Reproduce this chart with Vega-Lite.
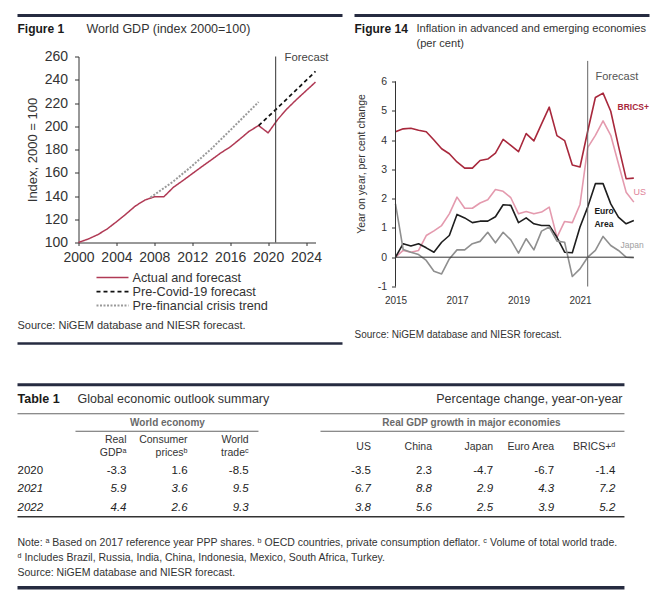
{
"$schema":"https://vega.github.io/schema/vega-lite/v6.json",
"padding":{"left":15.5,"top":13.5,"right":0,"bottom":0},
"spacing":37.25,
"config":{"font":"Liberation Sans","view":{"stroke":null},"axis":{"labelColor":"#333333","domainColor":"#333333","tickColor":"#333333","titleColor":"#333333","titleFontWeight":"normal","grid":false,"labelFlush":false,"labelOverlap":false},"line":{"strokeJoin":"round"}},
"datasets":{
"gdp":[
{"year":2000,"series":"Actual and forecast","index":100},{"year":2001,"series":"Actual and forecast","index":102.9},{"year":2002,"series":"Actual and forecast","index":106.6},{"year":2003,"series":"Actual and forecast","index":111.5},{"year":2004,"series":"Actual and forecast","index":117.8},{"year":2005,"series":"Actual and forecast","index":124.4},{"year":2006,"series":"Actual and forecast","index":131.4},{"year":2007,"series":"Actual and forecast","index":136.5},{"year":2008,"series":"Actual and forecast","index":139.3},{"year":2009,"series":"Actual and forecast","index":139.3},{"year":2010,"series":"Actual and forecast","index":147.4},{"year":2011,"series":"Actual and forecast","index":153.2},{"year":2012,"series":"Actual and forecast","index":159.2},{"year":2013,"series":"Actual and forecast","index":165.2},{"year":2014,"series":"Actual and forecast","index":171.0},{"year":2015,"series":"Actual and forecast","index":177.0},{"year":2016,"series":"Actual and forecast","index":182.2},{"year":2017,"series":"Actual and forecast","index":188.8},{"year":2018,"series":"Actual and forecast","index":195.7},{"year":2019,"series":"Actual and forecast","index":200.6},{"year":2020,"series":"Actual and forecast","index":194.3},{"year":2021,"series":"Actual and forecast","index":205.7},{"year":2022,"series":"Actual and forecast","index":215.0},{"year":2023,"series":"Actual and forecast","index":223.0},{"year":2024,"series":"Actual and forecast","index":230.5},{"year":2025,"series":"Actual and forecast","index":238.0},
{"year":2019,"series":"Pre-Covid-19 forecast","index":200.6},{"year":2021,"series":"Pre-Covid-19 forecast","index":215.8},{"year":2023,"series":"Pre-Covid-19 forecast","index":231.5},{"year":2025,"series":"Pre-Covid-19 forecast","index":247.2},
{"year":2007.6,"series":"Pre-financial crisis trend","index":138.8},{"year":2010,"series":"Pre-financial crisis trend","index":152.5},{"year":2012,"series":"Pre-financial crisis trend","index":166.0},{"year":2014,"series":"Pre-financial crisis trend","index":180.5},{"year":2016,"series":"Pre-financial crisis trend","index":196.5},{"year":2019,"series":"Pre-financial crisis trend","index":220.9}
],
"infl":[
{"t":2015,"c":"BRICS+","v":4.28},{"t":2015.25,"c":"BRICS+","v":4.38},{"t":2015.5,"c":"BRICS+","v":4.4},{"t":2015.75,"c":"BRICS+","v":4.33},{"t":2016,"c":"BRICS+","v":4.28},{"t":2016.25,"c":"BRICS+","v":4.0},{"t":2016.5,"c":"BRICS+","v":3.7},{"t":2016.75,"c":"BRICS+","v":3.53},{"t":2017,"c":"BRICS+","v":3.25},{"t":2017.25,"c":"BRICS+","v":3.04},{"t":2017.5,"c":"BRICS+","v":3.04},{"t":2017.75,"c":"BRICS+","v":3.3},{"t":2018,"c":"BRICS+","v":3.35},{"t":2018.25,"c":"BRICS+","v":3.55},{"t":2018.5,"c":"BRICS+","v":4.02},{"t":2018.75,"c":"BRICS+","v":3.82},{"t":2019,"c":"BRICS+","v":3.6},{"t":2019.25,"c":"BRICS+","v":4.22},{"t":2019.5,"c":"BRICS+","v":3.97},{"t":2019.75,"c":"BRICS+","v":4.55},{"t":2020,"c":"BRICS+","v":5.12},{"t":2020.25,"c":"BRICS+","v":4.15},{"t":2020.5,"c":"BRICS+","v":3.98},{"t":2020.75,"c":"BRICS+","v":3.15},{"t":2021,"c":"BRICS+","v":3.08},{"t":2021.25,"c":"BRICS+","v":4.3},{"t":2021.5,"c":"BRICS+","v":5.45},{"t":2021.75,"c":"BRICS+","v":5.6},{"t":2022,"c":"BRICS+","v":4.98},{"t":2022.25,"c":"BRICS+","v":3.8},{"t":2022.5,"c":"BRICS+","v":2.68},{"t":2022.75,"c":"BRICS+","v":2.7},
{"t":2015,"c":"US","v":0.0},{"t":2015.25,"c":"US","v":0.23},{"t":2015.5,"c":"US","v":0.17},{"t":2015.75,"c":"US","v":0.23},{"t":2016,"c":"US","v":0.74},{"t":2016.25,"c":"US","v":0.9},{"t":2016.5,"c":"US","v":1.08},{"t":2016.75,"c":"US","v":1.48},{"t":2017,"c":"US","v":2.05},{"t":2017.25,"c":"US","v":1.67},{"t":2017.5,"c":"US","v":1.67},{"t":2017.75,"c":"US","v":1.85},{"t":2018,"c":"US","v":1.96},{"t":2018.25,"c":"US","v":2.31},{"t":2018.5,"c":"US","v":2.25},{"t":2018.75,"c":"US","v":2.03},{"t":2019,"c":"US","v":1.48},{"t":2019.25,"c":"US","v":1.56},{"t":2019.5,"c":"US","v":1.48},{"t":2019.75,"c":"US","v":1.54},{"t":2020,"c":"US","v":1.71},{"t":2020.25,"c":"US","v":0.68},{"t":2020.5,"c":"US","v":1.22},{"t":2020.75,"c":"US","v":1.18},{"t":2021,"c":"US","v":1.8},{"t":2021.25,"c":"US","v":3.74},{"t":2021.5,"c":"US","v":4.16},{"t":2021.75,"c":"US","v":4.65},{"t":2022,"c":"US","v":4.16},{"t":2022.25,"c":"US","v":3.19},{"t":2022.5,"c":"US","v":2.22},{"t":2022.75,"c":"US","v":1.88},
{"t":2015,"c":"Euro Area","v":0.0},{"t":2015.25,"c":"Euro Area","v":0.46},{"t":2015.5,"c":"Euro Area","v":0.38},{"t":2015.75,"c":"Euro Area","v":0.46},{"t":2016,"c":"Euro Area","v":0.32},{"t":2016.25,"c":"Euro Area","v":0.17},{"t":2016.5,"c":"Euro Area","v":0.51},{"t":2016.75,"c":"Euro Area","v":0.74},{"t":2017,"c":"Euro Area","v":1.46},{"t":2017.25,"c":"Euro Area","v":1.34},{"t":2017.5,"c":"Euro Area","v":1.18},{"t":2017.75,"c":"Euro Area","v":1.23},{"t":2018,"c":"Euro Area","v":1.23},{"t":2018.25,"c":"Euro Area","v":1.38},{"t":2018.5,"c":"Euro Area","v":1.79},{"t":2018.75,"c":"Euro Area","v":1.77},{"t":2019,"c":"Euro Area","v":1.18},{"t":2019.25,"c":"Euro Area","v":1.34},{"t":2019.5,"c":"Euro Area","v":1.14},{"t":2019.75,"c":"Euro Area","v":1.08},{"t":2020,"c":"Euro Area","v":1.08},{"t":2020.25,"c":"Euro Area","v":0.68},{"t":2020.5,"c":"Euro Area","v":0.17},{"t":2020.75,"c":"Euro Area","v":0.15},{"t":2021,"c":"Euro Area","v":1.03},{"t":2021.25,"c":"Euro Area","v":1.71},{"t":2021.5,"c":"Euro Area","v":2.51},{"t":2021.75,"c":"Euro Area","v":2.51},{"t":2022,"c":"Euro Area","v":1.82},{"t":2022.25,"c":"Euro Area","v":1.37},{"t":2022.5,"c":"Euro Area","v":1.14},{"t":2022.75,"c":"Euro Area","v":1.25},
{"t":2015,"c":"Japan","v":1.82},{"t":2015.25,"c":"Japan","v":0.26},{"t":2015.5,"c":"Japan","v":0.17},{"t":2015.75,"c":"Japan","v":0.09},{"t":2016,"c":"Japan","v":-0.11},{"t":2016.25,"c":"Japan","v":-0.48},{"t":2016.5,"c":"Japan","v":-0.57},{"t":2016.75,"c":"Japan","v":-0.06},{"t":2017,"c":"Japan","v":0.25},{"t":2017.25,"c":"Japan","v":0.25},{"t":2017.5,"c":"Japan","v":0.46},{"t":2017.75,"c":"Japan","v":0.54},{"t":2018,"c":"Japan","v":0.85},{"t":2018.25,"c":"Japan","v":0.49},{"t":2018.5,"c":"Japan","v":0.85},{"t":2018.75,"c":"Japan","v":0.59},{"t":2019,"c":"Japan","v":0.14},{"t":2019.25,"c":"Japan","v":0.63},{"t":2019.5,"c":"Japan","v":0.25},{"t":2019.75,"c":"Japan","v":0.89},{"t":2020,"c":"Japan","v":1.03},{"t":2020.25,"c":"Japan","v":0.55},{"t":2020.5,"c":"Japan","v":0.51},{"t":2020.75,"c":"Japan","v":-0.66},{"t":2021,"c":"Japan","v":-0.4},{"t":2021.25,"c":"Japan","v":0.0},{"t":2021.5,"c":"Japan","v":0.23},{"t":2021.75,"c":"Japan","v":0.71},{"t":2022,"c":"Japan","v":0.4},{"t":2022.25,"c":"Japan","v":0.23},{"t":2022.5,"c":"Japan","v":0.0},{"t":2022.75,"c":"Japan","v":-0.02}
],
"table":[
{"year":2020,"col":1,"measure":"Real GDP","v":"-3.3"},{"year":2020,"col":2,"measure":"Consumer prices","v":"1.6"},{"year":2020,"col":3,"measure":"World trade","v":"-8.5"},{"year":2020,"col":5,"measure":"US","v":"-3.5"},{"year":2020,"col":6,"measure":"China","v":"2.3"},{"year":2020,"col":7,"measure":"Japan","v":"-4.7"},{"year":2020,"col":8,"measure":"Euro Area","v":"-6.7"},{"year":2020,"col":9,"measure":"BRICS+","v":"-1.4"},
{"year":2021,"col":1,"measure":"Real GDP","v":"5.9"},{"year":2021,"col":2,"measure":"Consumer prices","v":"3.6"},{"year":2021,"col":3,"measure":"World trade","v":"9.5"},{"year":2021,"col":5,"measure":"US","v":"6.7"},{"year":2021,"col":6,"measure":"China","v":"8.8"},{"year":2021,"col":7,"measure":"Japan","v":"2.9"},{"year":2021,"col":8,"measure":"Euro Area","v":"4.3"},{"year":2021,"col":9,"measure":"BRICS+","v":"7.2"},
{"year":2022,"col":1,"measure":"Real GDP","v":"4.4"},{"year":2022,"col":2,"measure":"Consumer prices","v":"2.6"},{"year":2022,"col":3,"measure":"World trade","v":"9.3"},{"year":2022,"col":5,"measure":"US","v":"3.8"},{"year":2022,"col":6,"measure":"China","v":"5.6"},{"year":2022,"col":7,"measure":"Japan","v":"2.5"},{"year":2022,"col":8,"measure":"Euro Area","v":"3.9"},{"year":2022,"col":9,"measure":"BRICS+","v":"5.2"}
],
"heads":[
{"col":1,"t1":"Real","t2":"GDPᵃ"},{"col":2,"t1":"Consumer","t2":"pricesᵇ"},{"col":3,"t1":"World","t2":"tradeᶜ"},{"col":5,"t1":"US"},{"col":6,"t1":"China"},{"col":7,"t1":"Japan"},{"col":8,"t1":"Euro Area"},{"col":9,"t1":"BRICS+ᵈ"}
]
},
"vconcat":[
{"hconcat":[
{"width":237,"height":186,"resolve":{"axis":{"x":"independent","y":"independent"}},"layer":[
{"data":{"name":"gdp"},"mark":{"type":"line"},
"encoding":{
"x":{"field":"year","type":"quantitative","scale":{"domain":[2000,2025],"nice":false,"zero":false},"axis":{"values":[2000,2004,2008,2012,2016,2020,2024],"format":"d","title":null,"labelFontSize":14,"labelPadding":5,"tickSize":3,"labelOverlap":false,"labelFlush":false}},
"y":{"field":"index","type":"quantitative","scale":{"domain":[100,260],"nice":false,"zero":false},"axis":{"values":[100,120,140,160,180,200,220,240,260],"title":"Index, 2000 = 100","titleFontSize":13,"titlePadding":5,"labelFontSize":14,"labelPadding":7,"tickSize":4,"labelOverlap":false}},
"color":{"field":"series","type":"nominal","scale":{"domain":["Actual and forecast","Pre-Covid-19 forecast","Pre-financial crisis trend"],"range":["#b03a55","#111111","#9a9a9a"]},"legend":{"orient":"none","legendX":27,"legendY":214,"title":null,"symbolType":"M-2.667,0H2.667","symbolSize":144,"symbolStrokeWidth":1.5,"labelFontSize":12.7,"labelOffset":13,"rowPadding":0,"padding":0,"labelColor":"#333333","labelLimit":300}},
"strokeDash":{"field":"series","type":"nominal","scale":{"domain":["Actual and forecast","Pre-Covid-19 forecast","Pre-financial crisis trend"],"range":[[1,0],[4,3],[2,1.5]]},"legend":{"orient":"none","legendX":27,"legendY":214,"title":null,"symbolType":"M-2.667,0H2.667","symbolSize":144,"symbolStrokeWidth":1.5,"labelFontSize":12.7,"labelOffset":13,"rowPadding":0,"padding":0,"labelColor":"#333333","labelLimit":300}},
"strokeWidth":{"field":"series","type":"ordinal","scale":{"domain":["Actual and forecast","Pre-Covid-19 forecast","Pre-financial crisis trend"],"range":[1.5,2,1]},"legend":null}
}},
{"data":{"values":[{}]},"mark":{"type":"rule","color":"#333333","strokeWidth":1},"encoding":{"x":{"datum":2020.8,"type":"quantitative","scale":{"domain":[2000,2025],"nice":false,"zero":false},"axis":null}}},
{"data":{"values":[{}]},"mark":{"type":"text","align":"left","baseline":"middle","fontSize":11.3,"color":"#444444"},"encoding":{"x":{"datum":2021.73,"type":"quantitative","scale":{"domain":[2000,2025],"nice":false,"zero":false},"axis":null},"y":{"datum":258.7,"type":"quantitative","scale":{"domain":[100,260],"nice":false,"zero":false},"axis":null},"text":{"value":"Forecast"}}},
{"data":{"values":[{}]},"mark":{"type":"text","align":"left","baseline":"middle","fontSize":12,"fontWeight":"bold","color":"#1a1a1a"},"encoding":{"x":{"datum":1993.565,"type":"quantitative","scale":{"domain":[2000,2025],"nice":false,"zero":false},"axis":null},"y":{"datum":283.8,"type":"quantitative","scale":{"domain":[100,260],"nice":false,"zero":false},"axis":null},"text":{"value":"Figure 1"}}},
{"data":{"values":[{}]},"mark":{"type":"text","align":"left","baseline":"middle","fontSize":12.5,"color":"#333333"},"encoding":{"x":{"datum":2000.844,"type":"quantitative","scale":{"domain":[2000,2025],"nice":false,"zero":false},"axis":null},"y":{"datum":283.8,"type":"quantitative","scale":{"domain":[100,260],"nice":false,"zero":false},"axis":null},"text":{"value":"World GDP (index 2000=100)"}}},
{"data":{"values":[{}]},"mark":{"type":"text","align":"left","baseline":"middle","fontSize":11,"color":"#333333"},"encoding":{"x":{"datum":1993.565,"type":"quantitative","scale":{"domain":[2000,2025],"nice":false,"zero":false},"axis":null},"y":{"datum":28.6,"type":"quantitative","scale":{"domain":[100,260],"nice":false,"zero":false},"axis":null},"text":{"value":"Source: NiGEM database and NIESR forecast."}}},
{"data":{"values":[{}]},"mark":{"type":"rule","color":"#262b40","strokeWidth":3},"encoding":{"x":{"datum":1993.565,"type":"quantitative","scale":{"domain":[2000,2025],"nice":false,"zero":false},"axis":null},"x2":{"datum":2027.848},"y":{"datum":295.27,"type":"quantitative","scale":{"domain":[100,260],"nice":false,"zero":false},"axis":null}}},
{"data":{"values":[{}]},"mark":{"type":"rule","color":"#262b40","strokeWidth":2.5},"encoding":{"x":{"datum":1993.565,"type":"quantitative","scale":{"domain":[2000,2025],"nice":false,"zero":false},"axis":null},"x2":{"datum":2027.848},"y":{"datum":13.12,"type":"quantitative","scale":{"domain":[100,260],"nice":false,"zero":false},"axis":null}}}
]},
{"width":246,"height":230,"resolve":{"axis":{"x":"independent","y":"independent"}},"layer":[
{"data":{"name":"infl"},"mark":{"type":"line","strokeWidth":1.6},
"encoding":{
"x":{"field":"t","type":"quantitative","scale":{"domain":[2015,2023],"nice":false,"zero":false},"axis":{"values":[2015,2017,2019,2021],"format":"d","title":null,"domain":false,"ticks":false,"labelPadding":9,"labelFontSize":10,"labelOverlap":false,"labelFlush":false}},
"y":{"field":"v","type":"quantitative","scale":{"domain":[-1,6.85],"nice":false,"zero":false},"axis":{"values":[-1,0,1,2,3,4,5,6],"labelExpr":"''+datum.value","domain":false,"tickSize":4,"labelPadding":5,"labelFontSize":10.5,"labelOverlap":false,"title":"Year on year, per cent change","titleFontSize":10.5,"titlePadding":11,"titleY":107}},
"color":{"field":"c","type":"nominal","scale":{"domain":["Japan","US","Euro Area","BRICS+"],"range":["#8f8f8f","#e49aae","#1e1e1e","#a8283c"]},"legend":null}
}},
{"data":{"values":[{}]},"mark":{"type":"rule","color":"#333333","strokeWidth":1},"encoding":{"x":{"datum":2015,"type":"quantitative","scale":{"domain":[2015,2023],"nice":false,"zero":false},"axis":null},"y":{"datum":-1,"type":"quantitative","scale":{"domain":[-1,6.85],"nice":false,"zero":false},"axis":null},"y2":{"datum":6}}},
{"data":{"values":[{}]},"mark":{"type":"rule","color":"#333333","strokeWidth":1},"encoding":{"x":{"datum":2015,"type":"quantitative","scale":{"domain":[2015,2023],"nice":false,"zero":false},"axis":null},"x2":{"datum":2022.75},"y":{"datum":0,"type":"quantitative","scale":{"domain":[-1,6.85],"nice":false,"zero":false},"axis":null}}},
{"data":{"values":[{}]},"mark":{"type":"rule","color":"#666666","strokeWidth":1},"encoding":{"x":{"datum":2021.25,"type":"quantitative","scale":{"domain":[2015,2023],"nice":false,"zero":false},"axis":null},"y":{"datum":-1,"type":"quantitative","scale":{"domain":[-1,6.85],"nice":false,"zero":false},"axis":null},"y2":{"datum":6.7}}},
{"data":{"values":[{}]},"mark":{"type":"text","align":"left","baseline":"middle","fontSize":11,"color":"#555555"},"encoding":{"x":{"datum":2021.504,"type":"quantitative","scale":{"domain":[2015,2023],"nice":false,"zero":false},"axis":null},"y":{"datum":6.167,"type":"quantitative","scale":{"domain":[-1,6.85],"nice":false,"zero":false},"axis":null},"text":{"value":"Forecast"}}},
{"data":{"values":[{}]},"mark":{"type":"text","align":"left","baseline":"middle","fontSize":8.5,"fontWeight":"bold","color":"#a8283c"},"encoding":{"x":{"datum":2022.22,"type":"quantitative","scale":{"domain":[2015,2023],"nice":false,"zero":false},"axis":null},"y":{"datum":5.12,"type":"quantitative","scale":{"domain":[-1,6.85],"nice":false,"zero":false},"axis":null},"text":{"value":"BRICS+"}}},
{"data":{"values":[{}]},"mark":{"type":"text","align":"left","baseline":"middle","fontSize":9,"color":"#e08198"},"encoding":{"x":{"datum":2022.74,"type":"quantitative","scale":{"domain":[2015,2023],"nice":false,"zero":false},"axis":null},"y":{"datum":2.21,"type":"quantitative","scale":{"domain":[-1,6.85],"nice":false,"zero":false},"axis":null},"text":{"value":"US"}}},
{"data":{"values":[{}]},"mark":{"type":"text","align":"left","baseline":"middle","fontSize":8.5,"fontWeight":"bold","color":"#1a1a1a"},"encoding":{"x":{"datum":2021.47,"type":"quantitative","scale":{"domain":[2015,2023],"nice":false,"zero":false},"axis":null},"y":{"datum":1.56,"type":"quantitative","scale":{"domain":[-1,6.85],"nice":false,"zero":false},"axis":null},"text":{"value":"Euro"}}},
{"data":{"values":[{}]},"mark":{"type":"text","align":"left","baseline":"middle","fontSize":8.5,"fontWeight":"bold","color":"#1a1a1a"},"encoding":{"x":{"datum":2021.47,"type":"quantitative","scale":{"domain":[2015,2023],"nice":false,"zero":false},"axis":null},"y":{"datum":1.15,"type":"quantitative","scale":{"domain":[-1,6.85],"nice":false,"zero":false},"axis":null},"text":{"value":"Area"}}},
{"data":{"values":[{}]},"mark":{"type":"text","align":"left","baseline":"middle","fontSize":8.5,"color":"#a0a0a0"},"encoding":{"x":{"datum":2022.32,"type":"quantitative","scale":{"domain":[2015,2023],"nice":false,"zero":false},"axis":null},"y":{"datum":0.43,"type":"quantitative","scale":{"domain":[-1,6.85],"nice":false,"zero":false},"axis":null},"text":{"value":"Japan"}}},
{"data":{"values":[{}]},"mark":{"type":"text","align":"left","baseline":"middle","fontSize":12,"fontWeight":"bold","color":"#1a1a1a"},"encoding":{"x":{"datum":2013.667,"type":"quantitative","scale":{"domain":[2015,2023],"nice":false,"zero":false},"axis":null},"y":{"datum":7.789,"type":"quantitative","scale":{"domain":[-1,6.85],"nice":false,"zero":false},"axis":null},"text":{"value":"Figure 14"}}},
{"data":{"values":[{}]},"mark":{"type":"text","align":"left","baseline":"middle","fontSize":11.1,"color":"#333333"},"encoding":{"x":{"datum":2015.683,"type":"quantitative","scale":{"domain":[2015,2023],"nice":false,"zero":false},"axis":null},"y":{"datum":7.789,"type":"quantitative","scale":{"domain":[-1,6.85],"nice":false,"zero":false},"axis":null},"text":{"value":"Inflation in advanced and emerging economies"}}},
{"data":{"values":[{}]},"mark":{"type":"text","align":"left","baseline":"middle","fontSize":11.1,"color":"#333333"},"encoding":{"x":{"datum":2015.683,"type":"quantitative","scale":{"domain":[2015,2023],"nice":false,"zero":false},"axis":null},"y":{"datum":7.277,"type":"quantitative","scale":{"domain":[-1,6.85],"nice":false,"zero":false},"axis":null},"text":{"value":"(per cent)"}}},
{"data":{"values":[{}]},"mark":{"type":"text","align":"left","baseline":"middle","fontSize":10,"color":"#333333"},"encoding":{"x":{"datum":2013.667,"type":"quantitative","scale":{"domain":[2015,2023],"nice":false,"zero":false},"axis":null},"y":{"datum":-2.672,"type":"quantitative","scale":{"domain":[-1,6.85],"nice":false,"zero":false},"axis":null},"text":{"value":"Source: NiGEM database and NIESR forecast."}}},
{"data":{"values":[{}]},"mark":{"type":"rule","color":"#262b40","strokeWidth":3},"encoding":{"x":{"datum":2013.667,"type":"quantitative","scale":{"domain":[2015,2023],"nice":false,"zero":false},"axis":null},"x2":{"datum":2023.26},"y":{"datum":8.249,"type":"quantitative","scale":{"domain":[-1,6.85],"nice":false,"zero":false},"axis":null}}}
]}
],"spacing":8,"resolve":{"scale":{"color":"independent","strokeDash":"independent","strokeWidth":"independent"},"legend":{"color":"independent","strokeDash":"independent"}}},
{"width":544,"height":203,"layer":[
{"data":{"name":"table"},"transform":[{"filter":"datum.year == 2020"}],"mark":{"type":"text","align":"right","baseline":"middle","fontSize":11.5,"color":"#222222"},"encoding":{"x":{"field":"col","type":"quantitative","scale":{"domain":[0.2144,9.118],"nice":false,"zero":false},"axis":null},"y":{"field":"year","type":"quantitative","scale":{"domain":[2015.351,2026.324],"nice":false,"zero":false,"reverse":true},"axis":null},"text":{"field":"v","type":"nominal"}}},
{"data":{"name":"table"},"transform":[{"filter":"datum.year > 2020"}],"mark":{"type":"text","align":"right","baseline":"middle","fontSize":11.5,"fontStyle":"italic","color":"#222222"},"encoding":{"x":{"field":"col","type":"quantitative","scale":{"domain":[0.2144,9.118],"nice":false,"zero":false},"axis":null},"y":{"field":"year","type":"quantitative","scale":{"domain":[2015.351,2026.324],"nice":false,"zero":false,"reverse":true},"axis":null},"text":{"field":"v","type":"nominal"}}},
{"data":{"name":"table"},"transform":[{"filter":"datum.col == 1 && datum.year == 2020"}],"mark":{"type":"text","align":"left","baseline":"middle","fontSize":11.5,"color":"#222222"},"encoding":{"x":{"datum":-0.784,"type":"quantitative","scale":{"domain":[0.2144,9.118],"nice":false,"zero":false},"axis":null},"y":{"field":"year","type":"quantitative","scale":{"domain":[2015.351,2026.324],"nice":false,"zero":false,"reverse":true},"axis":null},"text":{"field":"year","type":"nominal"}}},
{"data":{"name":"table"},"transform":[{"filter":"datum.col == 1 && datum.year > 2020"}],"mark":{"type":"text","align":"left","baseline":"middle","fontSize":11.5,"fontStyle":"italic","color":"#222222"},"encoding":{"x":{"datum":-0.784,"type":"quantitative","scale":{"domain":[0.2144,9.118],"nice":false,"zero":false},"axis":null},"y":{"field":"year","type":"quantitative","scale":{"domain":[2015.351,2026.324],"nice":false,"zero":false,"reverse":true},"axis":null},"text":{"field":"year","type":"nominal"}}},
{"data":{"values":[{}]},"mark":{"type":"rule","color":"#262b40","strokeWidth":3},"encoding":{"x":{"datum":-0.784,"type":"quantitative","scale":{"domain":[0.2144,9.118],"nice":false,"zero":false},"axis":null},"x2":{"datum":9.15},"y":{"datum":2015.351,"type":"quantitative","scale":{"domain":[2015.351,2026.324],"nice":false,"zero":false,"reverse":true},"axis":null}}},
{"data":{"values":[{}]},"mark":{"type":"text","align":"left","baseline":"middle","fontSize":12.5,"fontWeight":"bold","color":"#1a1a1a"},"encoding":{"x":{"datum":-0.784,"type":"quantitative","scale":{"domain":[0.2144,9.118],"nice":false,"zero":false},"axis":null},"y":{"datum":2016.108,"type":"quantitative","scale":{"domain":[2015.351,2026.324],"nice":false,"zero":false,"reverse":true},"axis":null},"text":{"value":"Table 1"}}},
{"data":{"values":[{}]},"mark":{"type":"text","align":"left","baseline":"middle","fontSize":12.5,"color":"#333333"},"encoding":{"x":{"datum":0.198,"type":"quantitative","scale":{"domain":[0.2144,9.118],"nice":false,"zero":false},"axis":null},"y":{"datum":2016.108,"type":"quantitative","scale":{"domain":[2015.351,2026.324],"nice":false,"zero":false,"reverse":true},"axis":null},"text":{"value":"Global economic outlook summary"}}},
{"data":{"values":[{}]},"mark":{"type":"text","align":"right","baseline":"middle","fontSize":12.5,"color":"#333333"},"encoding":{"x":{"datum":9.118,"type":"quantitative","scale":{"domain":[0.2144,9.118],"nice":false,"zero":false},"axis":null},"y":{"datum":2016.108,"type":"quantitative","scale":{"domain":[2015.351,2026.324],"nice":false,"zero":false,"reverse":true},"axis":null},"text":{"value":"Percentage change, year-on-year"}}},
{"data":{"values":[{}]},"mark":{"type":"rule","color":"#666666","strokeWidth":1},"encoding":{"x":{"datum":-0.784,"type":"quantitative","scale":{"domain":[0.2144,9.118],"nice":false,"zero":false},"axis":null},"x2":{"datum":9.15},"y":{"datum":2016.919,"type":"quantitative","scale":{"domain":[2015.351,2026.324],"nice":false,"zero":false,"reverse":true},"axis":null}}},
{"data":{"values":[{}]},"mark":{"type":"text","align":"center","baseline":"middle","fontSize":10,"fontWeight":"bold","color":"#6a6a6a"},"encoding":{"x":{"datum":1.671,"type":"quantitative","scale":{"domain":[0.2144,9.118],"nice":false,"zero":false},"axis":null},"y":{"datum":2017.405,"type":"quantitative","scale":{"domain":[2015.351,2026.324],"nice":false,"zero":false,"reverse":true},"axis":null},"text":{"value":"World economy"}}},
{"data":{"values":[{}]},"mark":{"type":"text","align":"center","baseline":"middle","fontSize":10,"fontWeight":"bold","color":"#6a6a6a"},"encoding":{"x":{"datum":6.646,"type":"quantitative","scale":{"domain":[0.2144,9.118],"nice":false,"zero":false},"axis":null},"y":{"datum":2017.405,"type":"quantitative","scale":{"domain":[2015.351,2026.324],"nice":false,"zero":false,"reverse":true},"axis":null},"text":{"value":"Real GDP growth in major economies"}}},
{"data":{"values":[{}]},"mark":{"type":"rule","color":"#666666","strokeWidth":1},"encoding":{"x":{"datum":0.165,"type":"quantitative","scale":{"domain":[0.2144,9.118],"nice":false,"zero":false},"axis":null},"x2":{"datum":3.16},"y":{"datum":2017.865,"type":"quantitative","scale":{"domain":[2015.351,2026.324],"nice":false,"zero":false,"reverse":true},"axis":null}}},
{"data":{"values":[{}]},"mark":{"type":"rule","color":"#666666","strokeWidth":1},"encoding":{"x":{"datum":4.175,"type":"quantitative","scale":{"domain":[0.2144,9.118],"nice":false,"zero":false},"axis":null},"x2":{"datum":9.15},"y":{"datum":2017.865,"type":"quantitative","scale":{"domain":[2015.351,2026.324],"nice":false,"zero":false,"reverse":true},"axis":null}}},
{"data":{"name":"heads"},"transform":[{"filter":"isValid(datum.t2)"}],"mark":{"type":"text","align":"right","baseline":"middle","fontSize":10.5,"color":"#333333"},"encoding":{"x":{"field":"col","type":"quantitative","scale":{"domain":[0.2144,9.118],"nice":false,"zero":false},"axis":null},"y":{"datum":2018.324,"type":"quantitative","scale":{"domain":[2015.351,2026.324],"nice":false,"zero":false,"reverse":true},"axis":null},"text":{"field":"t1","type":"nominal"}}},
{"data":{"name":"heads"},"transform":[{"filter":"isValid(datum.t2)"}],"mark":{"type":"text","align":"right","baseline":"middle","fontSize":10.5,"color":"#333333"},"encoding":{"x":{"field":"col","type":"quantitative","scale":{"domain":[0.2144,9.118],"nice":false,"zero":false},"axis":null},"y":{"datum":2019.054,"type":"quantitative","scale":{"domain":[2015.351,2026.324],"nice":false,"zero":false,"reverse":true},"axis":null},"text":{"field":"t2","type":"nominal"}}},
{"data":{"name":"heads"},"transform":[{"filter":"!isValid(datum.t2)"}],"mark":{"type":"text","align":"right","baseline":"middle","fontSize":10.5,"color":"#333333"},"encoding":{"x":{"field":"col","type":"quantitative","scale":{"domain":[0.2144,9.118],"nice":false,"zero":false},"axis":null},"y":{"datum":2018.703,"type":"quantitative","scale":{"domain":[2015.351,2026.324],"nice":false,"zero":false,"reverse":true},"axis":null},"text":{"field":"t1","type":"nominal"}}},
{"data":{"values":[{}]},"mark":{"type":"rule","color":"#333333","strokeWidth":1.5},"encoding":{"x":{"datum":-0.784,"type":"quantitative","scale":{"domain":[0.2144,9.118],"nice":false,"zero":false},"axis":null},"x2":{"datum":9.15},"y":{"datum":2022.486,"type":"quantitative","scale":{"domain":[2015.351,2026.324],"nice":false,"zero":false,"reverse":true},"axis":null}}},
{"data":{"values":[{}]},"mark":{"type":"text","align":"left","baseline":"middle","fontSize":10.5,"color":"#333333"},"encoding":{"x":{"datum":-0.784,"type":"quantitative","scale":{"domain":[0.2144,9.118],"nice":false,"zero":false},"axis":null},"y":{"datum":2023.892,"type":"quantitative","scale":{"domain":[2015.351,2026.324],"nice":false,"zero":false,"reverse":true},"axis":null},"text":{"value":"Note: ᵃ Based on 2017 reference year PPP shares. ᵇ OECD countries, private consumption deflator. ᶜ Volume of total world trade."}}},
{"data":{"values":[{}]},"mark":{"type":"text","align":"left","baseline":"middle","fontSize":10.5,"color":"#333333"},"encoding":{"x":{"datum":-0.784,"type":"quantitative","scale":{"domain":[0.2144,9.118],"nice":false,"zero":false},"axis":null},"y":{"datum":2024.703,"type":"quantitative","scale":{"domain":[2015.351,2026.324],"nice":false,"zero":false,"reverse":true},"axis":null},"text":{"value":"ᵈ Includes Brazil, Russia, India, China, Indonesia, Mexico, South Africa, Turkey."}}},
{"data":{"values":[{}]},"mark":{"type":"text","align":"left","baseline":"middle","fontSize":10.5,"color":"#333333"},"encoding":{"x":{"datum":-0.784,"type":"quantitative","scale":{"domain":[0.2144,9.118],"nice":false,"zero":false},"axis":null},"y":{"datum":2025.514,"type":"quantitative","scale":{"domain":[2015.351,2026.324],"nice":false,"zero":false,"reverse":true},"axis":null},"text":{"value":"Source: NiGEM database and NIESR forecast."}}},
{"data":{"values":[{}]},"mark":{"type":"rule","color":"#262b40","strokeWidth":3.5},"encoding":{"x":{"datum":-0.784,"type":"quantitative","scale":{"domain":[0.2144,9.118],"nice":false,"zero":false},"axis":null},"x2":{"datum":9.15},"y":{"datum":2026.324,"type":"quantitative","scale":{"domain":[2015.351,2026.324],"nice":false,"zero":false,"reverse":true},"axis":null}}}
]}
]
}
